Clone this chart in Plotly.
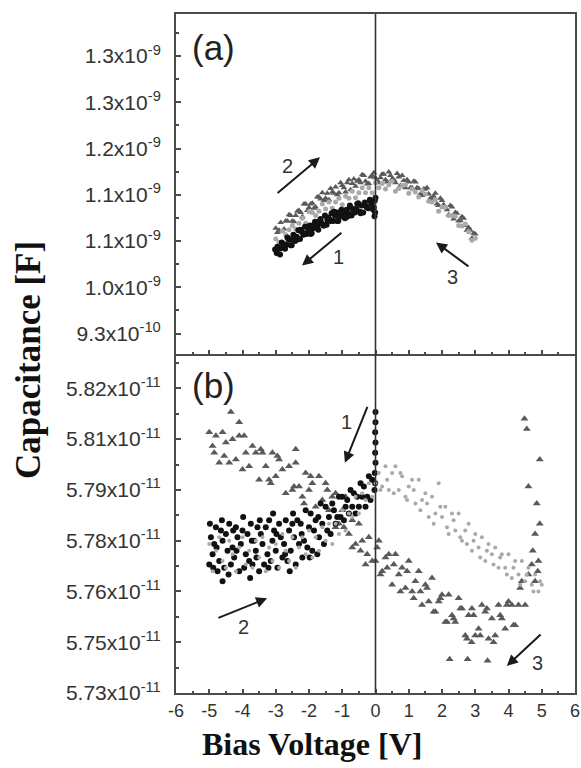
import plotly.graph_objects as go

# ---------------- Panel (a): capacitance in units of 1e-9 F ----------------
# series 1 (black circles, 0 V -> -3 V)
a1_x = [-0.02, -0.07, -0.12, -0.17, -0.22, -0.27, -0.32, -0.37, -0.42, -0.47, -0.52, -0.57, -0.62, -0.67,
        -0.72, -0.77, -0.82, -0.87, -0.92, -0.97, -1.02, -1.07, -1.12, -1.17, -1.22, -1.27, -1.32, -1.37,
        -1.42, -1.47, -1.52, -1.57, -1.62, -1.67, -1.72, -1.77, -1.82, -1.87, -1.92, -1.97, -2.02, -2.07,
        -2.12, -2.17, -2.22, -2.27, -2.32, -2.37, -2.42, -2.47, -2.52, -2.57, -2.62, -2.67, -2.72, -2.77,
        -2.82, -2.87, -2.92, -2.97, -3.02,
        -0.05, -0.15, -0.25, -0.35, -0.45, -0.55, -0.65, -0.75, -0.85, -0.95, -1.05, -1.15, -1.25, -1.35,
        -1.45, -1.55, -1.65, -1.75, -1.85, -1.95, -2.05, -2.15, -2.25, -2.35, -2.45, -2.55, -2.65, -2.75,
        -2.85, -2.95, -0.01, 0.0, -0.03]
a1_y = [1.117, 1.104, 1.113, 1.118, 1.106, 1.108, 1.114, 1.100, 1.110, 1.101, 1.113, 1.105, 1.100, 1.105,
        1.096, 1.110, 1.099, 1.104, 1.092, 1.099, 1.104, 1.094, 1.088, 1.100, 1.096, 1.088, 1.099, 1.090,
        1.093, 1.083, 1.096, 1.082, 1.085, 1.089, 1.076, 1.084, 1.087, 1.078, 1.071, 1.082, 1.077, 1.070,
        1.080, 1.069, 1.073, 1.063, 1.075, 1.066, 1.060, 1.069, 1.054, 1.062, 1.063, 1.055, 1.049, 1.056,
        1.058, 1.041, 1.049, 1.043, 1.048,
        1.107, 1.116, 1.108, 1.111, 1.099, 1.112, 1.102, 1.107, 1.094, 1.099, 1.101, 1.088, 1.101, 1.088,
        1.090, 1.082, 1.091, 1.081, 1.083, 1.070, 1.080, 1.071, 1.076, 1.062, 1.065, 1.054, 1.065, 1.051,
        1.050, 1.052, 1.100, 1.121, 1.095]

# series 2 (dark grey triangles, -3 V -> +3 V)
a2_x = [-3.0, -2.9, -2.8, -2.7, -2.6, -2.5, -2.4, -2.3, -2.2, -2.1, -2.0, -1.9, -1.8, -1.7, -1.6, -1.5,
        -1.4, -1.3, -1.2, -1.1, -1.0, -0.9, -0.8, -0.7, -0.6, -0.5, -0.4, -0.3, -0.2, -0.1, 0.0, 0.1, 0.2,
        0.3, 0.4, 0.5, 0.6, 0.7, 0.8, 0.9, 1.0, 1.1, 1.2, 1.3, 1.4, 1.5, 1.6, 1.7, 1.8, 1.9, 2.0, 2.1, 2.2,
        2.3, 2.4, 2.5, 2.6, 2.7, 2.8, 2.9, 3.0,
        -2.95, -2.85, -2.75, -2.65, -2.55, -2.45, -2.35, -2.25, -2.15, -2.05, -1.95, -1.85, -1.75, -1.65,
        -1.55, -1.45, -1.35, -1.25, -1.15, -1.05, -0.95, -0.85, -0.75, -0.65, -0.55, -0.45, -0.35, -0.25,
        -0.15, -0.05, 0.05, 0.15, 0.25, 0.35, 0.45, 0.55, 0.65, 0.75, 0.85, 0.95, 1.05, 1.15, 1.25, 1.35,
        1.45, 1.55, 1.65, 1.75, 1.85, 1.95, 2.05, 2.15, 2.25, 2.35, 2.45, 2.55, 2.65, 2.75, 2.85, 2.95]
a2_y = [1.078, 1.075, 1.074, 1.088, 1.097, 1.088, 1.096, 1.103, 1.094, 1.112, 1.107, 1.113, 1.108, 1.122,
        1.128, 1.120, 1.118, 1.129, 1.136, 1.128, 1.138, 1.129, 1.146, 1.141, 1.137, 1.146, 1.153, 1.144,
        1.141, 1.152, 1.149, 1.142, 1.154, 1.146, 1.157, 1.147, 1.142, 1.150, 1.152, 1.135, 1.143, 1.135,
        1.143, 1.134, 1.124, 1.133, 1.126, 1.119, 1.127, 1.110, 1.117, 1.107, 1.097, 1.108, 1.100, 1.088,
        1.094, 1.082, 1.079, 1.064, 1.070,
        1.072, 1.086, 1.077, 1.088, 1.096, 1.087, 1.102, 1.100, 1.112, 1.103, 1.112, 1.106, 1.122, 1.119,
        1.117, 1.127, 1.134, 1.127, 1.125, 1.142, 1.135, 1.142, 1.132, 1.147, 1.144, 1.142, 1.152, 1.140,
        1.150, 1.156, 1.145, 1.149, 1.154, 1.143, 1.152, 1.146, 1.155, 1.138, 1.145, 1.146, 1.135, 1.144,
        1.135, 1.126, 1.133, 1.135, 1.120, 1.123, 1.112, 1.120, 1.111, 1.104, 1.110, 1.091, 1.099, 1.089,
        1.092, 1.075, 1.075, 1.071]

# series 3 (light grey circles, +3 V -> -3 V)
a3_x = [3.0, 2.9, 2.8, 2.7, 2.6, 2.5, 2.4, 2.3, 2.2, 2.1, 2.0, 1.9, 1.8, 1.7, 1.6, 1.5, 1.4, 1.3, 1.2,
        1.1, 1.0, 0.9, 0.8, 0.7, 0.6, 0.5, 0.4, 0.3, 0.2, 0.1, 0.0, -0.1, -0.2, -0.3, -0.4, -0.5, -0.6,
        -0.7, -0.8, -0.9, -1.0, -1.1, -1.2, -1.3, -1.4, -1.5, -1.6, -1.7, -1.8, -1.9, -2.0, -2.1, -2.2,
        -2.3, -2.4, -2.5, -2.6, -2.7, -2.8, -2.9, -3.0]
a3_y = [1.064, 1.061, 1.073, 1.084, 1.081, 1.082, 1.095, 1.096, 1.096, 1.108, 1.108, 1.102, 1.118, 1.115,
        1.116, 1.126, 1.131, 1.122, 1.129, 1.133, 1.127, 1.139, 1.138, 1.134, 1.130, 1.144, 1.139, 1.133,
        1.141, 1.135, 1.142, 1.128, 1.135, 1.128, 1.135, 1.128, 1.121, 1.130, 1.120, 1.123, 1.111, 1.120,
        1.115, 1.106, 1.115, 1.105, 1.112, 1.102, 1.096, 1.100, 1.101, 1.085, 1.092, 1.085, 1.077, 1.082,
        1.076, 1.069, 1.074, 1.058, 1.063]

# ---------------- Panel (b): capacitance in units of 1e-11 F ----------------
# series 1 (black circles, 0 V -> -5 V)
b1_x = [0.0, 0.0, -0.01, 0.0, -0.01, 0.0, -0.02, -0.01, -0.03,
        -0.1, -0.15, -0.2, -0.25, -0.3, -0.35, -0.4, -0.45, -0.5, -0.55, -0.6, -0.65, -0.7, -0.75, -0.8,
        -0.85, -0.9, -0.95, -1.0, -1.05, -1.1, -1.15, -1.2, -1.25, -1.3, -1.35, -1.4, -1.45,
        -1.5, -1.55, -1.6, -1.65, -1.7, -1.75, -1.8, -1.85, -1.9, -1.95, -2.0, -2.05, -2.1, -2.15, -2.2,
        -2.25, -2.3, -2.35, -2.4, -2.45, -2.5, -2.55, -2.6, -2.65, -2.7, -2.75, -2.8, -2.85, -2.9, -2.95,
        -3.0, -3.05, -3.1, -3.15, -3.2, -3.25, -3.3, -3.35, -3.4, -3.45, -3.5, -3.55, -3.6, -3.65, -3.7,
        -3.75, -3.8, -3.85, -3.9, -3.95, -4.0, -4.05, -4.1, -4.15, -4.2, -4.25, -4.3, -4.35, -4.4, -4.45,
        -4.5, -4.55, -4.6, -4.65, -4.7, -4.75, -4.8, -4.85, -4.9, -4.95, -5.0,
        -4.98, -4.88, -4.62, -4.42, -4.18, -3.98, -3.72, -3.48, -3.22, -2.98, -2.72, -2.48, -2.22, -1.98,
        -1.72, -4.78, -4.28, -3.58, -3.08, -2.58, -4.6, -3.77]
b1_y = [5.813, 5.810, 5.807, 5.804, 5.801, 5.798, 5.795, 5.792, 5.790,
        5.793, 5.787, 5.794, 5.788, 5.785, 5.791, 5.788, 5.792, 5.785, 5.788, 5.783, 5.789, 5.785, 5.790,
        5.783, 5.787, 5.785, 5.781, 5.788, 5.782, 5.788, 5.782, 5.780, 5.784, 5.786, 5.777, 5.782, 5.778,
        5.785, 5.774, 5.780, 5.786, 5.776, 5.771, 5.781, 5.778, 5.772, 5.783, 5.779, 5.773, 5.784, 5.775,
        5.770, 5.780, 5.774, 5.781, 5.768, 5.776, 5.780, 5.772, 5.778, 5.769, 5.781, 5.774, 5.770, 5.776,
        5.780, 5.767, 5.772, 5.778, 5.775, 5.769, 5.781, 5.771, 5.779, 5.768, 5.774, 5.777, 5.766, 5.779,
        5.772, 5.775, 5.768, 5.780, 5.769, 5.777, 5.771, 5.767, 5.778, 5.774, 5.766, 5.776, 5.779, 5.770,
        5.773, 5.768, 5.780, 5.772, 5.777, 5.767, 5.775, 5.778, 5.769, 5.766, 5.779, 5.774, 5.771, 5.776,
        5.768,
        5.780, 5.767, 5.781, 5.765, 5.772, 5.782, 5.775, 5.781, 5.767, 5.777, 5.771, 5.783, 5.777, 5.770,
        5.782, 5.773, 5.778, 5.770, 5.783, 5.766, 5.763, 5.764]

# series 2 (light grey circles, -5 V -> +5 V)
b2_x = [-5.0, -4.9, -4.8, -4.7, -4.6, -4.5, -4.4, -4.3, -4.2, -4.1, -4.0, -3.9, -3.8, -3.7, -3.6, -3.5,
        -3.4, -3.3, -3.2, -3.1, -3.0, -2.9, -2.8, -2.7, -2.6, -2.5, -2.4, -2.3, -2.2, -2.1, -2.0, -1.9,
        -1.8, -1.7, -1.6, -1.5, -1.4, -1.3, -1.2, -1.1, -1.0, -0.9, -0.8, -0.7, -0.6, -0.5, -0.4, -0.3,
        -0.2, -0.1, 0.0, 0.1, 0.2, 0.3, 0.4, 0.5, 0.6, 0.7, 0.8, 0.9, 1.0, 1.1, 1.2, 1.3, 1.4, 1.5, 1.6,
        1.7, 1.8, 1.9, 2.0, 2.1, 2.2, 2.3, 2.4, 2.5, 2.6, 2.7, 2.8, 2.9, 3.0, 3.1, 3.2, 3.3, 3.4, 3.5,
        3.6, 3.7, 3.8, 3.9, 4.0, 4.1, 4.2, 4.3, 4.4, 4.5, 4.6, 4.7, 4.8, 4.9, 5.0,
        0.15, 0.35, 0.55, 0.75, 0.95, 1.15, 1.35, 1.55, 1.75, 1.95, 2.15, 2.35, 2.55, 2.75, 2.95, 3.15,
        3.35, 3.55, 3.75, 3.95, 4.15, 4.35, 4.55, 4.75, 4.95]
b2_y = [5.774, 5.766, 5.772, 5.776, 5.769, 5.767, 5.775, 5.771, 5.766, 5.773, 5.776, 5.768, 5.772, 5.767,
        5.775, 5.770, 5.776, 5.766, 5.773, 5.769, 5.774, 5.767, 5.777, 5.772, 5.769, 5.776, 5.767, 5.773,
        5.776, 5.771, 5.778, 5.770, 5.776, 5.772, 5.779, 5.775, 5.780, 5.774, 5.780, 5.777, 5.784, 5.778,
        5.783, 5.782, 5.788, 5.783, 5.789, 5.787, 5.792, 5.788, 5.792, 5.795, 5.791, 5.797, 5.790, 5.795,
        5.797, 5.790, 5.794, 5.788, 5.791, 5.793, 5.786, 5.793, 5.787, 5.789, 5.782, 5.788, 5.783, 5.792,
        5.782, 5.785, 5.777, 5.783, 5.778, 5.783, 5.775, 5.778, 5.780, 5.772, 5.777, 5.773, 5.776, 5.769,
        5.774, 5.771, 5.773, 5.767, 5.771, 5.767, 5.771, 5.764, 5.769, 5.765, 5.769, 5.763, 5.767, 5.762,
        5.765, 5.760, 5.762,
        5.790, 5.793, 5.789, 5.795, 5.787, 5.790, 5.784, 5.786, 5.780, 5.785, 5.779, 5.781, 5.776, 5.774,
        5.775, 5.770, 5.772, 5.768, 5.770, 5.765, 5.767, 5.762, 5.765, 5.760, 5.763]

# series 3 (dark grey triangles, +5 V -> -5 V)
b3_x = [4.48, 4.55, 4.94, 4.6, 4.85, 4.94, 4.8, 4.73, 4.9, 4.88, 4.8, 4.7,
        4.6, 4.5, 4.4, 4.3, 4.2, 4.1, 4.0, 3.9, 3.8, 3.7, 3.6, 3.5, 3.4, 3.3, 3.2, 3.1, 3.0, 2.9, 2.8,
        2.7, 2.6, 2.5, 2.4, 2.3, 2.2, 2.1, 2.0, 1.9, 1.8, 1.7, 1.6, 1.5, 1.4, 1.3, 1.2, 1.1, 1.0, 0.9,
        0.8, 0.7, 0.6, 0.5, 0.4, 0.3, 0.2, 0.1, 0.0,
        4.35, 4.15, 3.95, 3.75, 3.55, 3.35, 3.15, 2.95, 2.75, 2.55, 2.35, 2.15, 1.95, 1.75, 1.55, 1.35,
        1.15, 0.95, 0.75, 0.55, 0.35, 0.15, 0.05,
        2.23, 2.77, 3.37, 2.89,
        -0.1, -0.2, -0.3, -0.4, -0.5, -0.6, -0.7, -0.8, -0.9, -1.0, -1.1, -1.2, -1.3, -1.4, -1.5, -1.6,
        -1.7, -1.8, -1.9, -2.0, -2.1, -2.2, -2.3, -2.4, -2.5, -2.6, -2.7, -2.8, -2.9, -3.0, -3.1, -3.2,
        -3.3, -3.4, -3.5, -3.6, -3.7, -3.8, -3.9, -4.0, -4.1, -4.2, -4.3, -4.4, -4.5, -4.6, -4.7, -4.8,
        -4.9, -5.0,
        -4.35, -4.1, -4.85, -4.55, -3.95, -3.45, -2.95, -2.45, -1.95, -1.45, -0.95, -0.45, -0.25,
        -2.15, -3.15, -1.2, -0.7, -2.4]
b3_y = [5.811, 5.808, 5.799, 5.791, 5.786, 5.780, 5.777, 5.772, 5.769, 5.766, 5.763, 5.768,
        5.765, 5.756, 5.763, 5.756, 5.750, 5.756, 5.757, 5.749, 5.752, 5.756, 5.747, 5.752, 5.746, 5.754,
        5.756, 5.749, 5.747, 5.755, 5.753, 5.747, 5.755, 5.758, 5.751, 5.753, 5.759, 5.751, 5.759, 5.757,
        5.754, 5.764, 5.757, 5.762, 5.756, 5.766, 5.763, 5.760, 5.769, 5.761, 5.767, 5.765, 5.771, 5.762,
        5.771, 5.770, 5.766, 5.775, 5.769,
        5.761, 5.750, 5.756, 5.753, 5.745, 5.755, 5.747, 5.753, 5.746, 5.755, 5.752, 5.751, 5.758, 5.754,
        5.761, 5.760, 5.758, 5.766, 5.760, 5.768, 5.767, 5.765, 5.773,
        5.740, 5.740, 5.7395, 5.745,
        5.769, 5.776, 5.768, 5.775, 5.780, 5.774, 5.781, 5.777, 5.788, 5.784, 5.780, 5.789, 5.788, 5.784,
        5.792, 5.787, 5.794, 5.785, 5.792, 5.790, 5.795, 5.788, 5.791, 5.798, 5.790, 5.797, 5.789, 5.796,
        5.799, 5.794, 5.801, 5.793, 5.797, 5.801, 5.793, 5.801, 5.803, 5.797, 5.801, 5.796, 5.806, 5.799,
        5.805, 5.798, 5.804, 5.807, 5.798, 5.806, 5.803, 5.807,
        5.813, 5.810, 5.801, 5.800, 5.806, 5.802, 5.800, 5.791, 5.794, 5.790, 5.779, 5.772, 5.771,
        5.786, 5.792, 5.779, 5.773, 5.802]

# ---------------- Axis ticks ----------------
x_ticks = [-6, -5, -4, -3, -2, -1, 0, 1, 2, 3, 4, 5, 6]
a_tickvals = [0.93, 0.995, 1.06, 1.125, 1.19, 1.255, 1.32]
a_ticktext = ["9.3x10<sup>-10</sup>", "1.0x10<sup>-9</sup>", "1.1x10<sup>-9</sup>", "1.1x10<sup>-9</sup>",
              "1.2x10<sup>-9</sup>", "1.3x10<sup>-9</sup>", "1.3x10<sup>-9</sup>"]
b_tickvals = [5.73, 5.745, 5.76, 5.775, 5.79, 5.805, 5.82]
b_ticktext = ["5.73x10<sup>-11</sup>", "5.75x10<sup>-11</sup>", "5.76x10<sup>-11</sup>", "5.78x10<sup>-11</sup>",
              "5.79x10<sup>-11</sup>", "5.81x10<sup>-11</sup>", "5.82x10<sup>-11</sup>"]

BLACK = "#111111"
DARK = "#5a5a5a"
LIGHT = "#a9a9a9"
AX = "#4a4a4a"

fig = go.Figure()

# panel (a)
fig.add_trace(go.Scatter(x=a2_x, y=a2_y, mode="markers", xaxis="x2", yaxis="y2",
                         marker=dict(symbol="triangle-up", size=6, color=DARK)))
fig.add_trace(go.Scatter(x=a3_x, y=a3_y, mode="markers", xaxis="x2", yaxis="y2",
                         marker=dict(symbol="circle", size=5, color=LIGHT)))
fig.add_trace(go.Scatter(x=a1_x, y=a1_y, mode="markers", xaxis="x2", yaxis="y2",
                         marker=dict(symbol="circle", size=6, color=BLACK)))
# panel (b)
fig.add_trace(go.Scatter(x=b3_x, y=b3_y, mode="markers", xaxis="x", yaxis="y",
                         marker=dict(symbol="triangle-up", size=7, color=DARK)))
fig.add_trace(go.Scatter(x=b1_x, y=b1_y, mode="markers", xaxis="x", yaxis="y",
                         marker=dict(symbol="circle", size=6, color=BLACK)))
fig.add_trace(go.Scatter(x=b2_x, y=b2_y, mode="markers", xaxis="x", yaxis="y",
                         marker=dict(symbol="circle", size=4, color=LIGHT)))

ytickfont = dict(family="Liberation Sans, Arial", size=21, color="#333333")
common_x = dict(range=[-6, 6], showline=True, linecolor=AX, linewidth=2,
                ticks="inside", ticklen=4, tickwidth=1.5, tickcolor=AX,
                tickmode="array", tickvals=x_ticks, showgrid=False, zeroline=False,
                minor=dict(ticks="inside", ticklen=2, tickwidth=1.5, tickcolor=AX, tick0=-6, dtick=0.5))
common_y = dict(showline=True, linecolor=AX, linewidth=2, mirror=True,
                ticks="inside", ticklen=5, tickwidth=1.5, tickcolor=AX, showgrid=False, zeroline=False,
                tickfont=ytickfont, ticklabelstandoff=9)

fig.update_layout(
    width=581, height=768,
    margin=dict(l=176, r=6, t=14, b=75, autoexpand=False),
    paper_bgcolor="white", plot_bgcolor="white",
    showlegend=False,
    xaxis=dict(common_x, anchor="y", domain=[0, 1], mirror=False, ticktext=[str(v) for v in x_ticks],
               tickfont=dict(family="Liberation Sans, Arial", size=18, color="#333333")),
    xaxis2=dict(common_x, anchor="y2", domain=[0, 1], mirror=True, matches="x", showticklabels=False),
    yaxis=dict(common_y, anchor="x", domain=[0, 0.5], range=[5.73, 5.8303],
               tickmode="array", tickvals=b_tickvals, ticktext=b_ticktext,
               minor=dict(ticks="inside", ticklen=3, tickwidth=1.5, tickcolor=AX, tick0=5.73, dtick=0.0075)),
    yaxis2=dict(common_y, anchor="x2", domain=[0.5, 1], range=[0.902, 1.379],
                tickmode="array", tickvals=a_tickvals, ticktext=a_ticktext,
                minor=dict(ticks="inside", ticklen=3, tickwidth=1.5, tickcolor=AX, tick0=0.93, dtick=0.0325)),
)

# vertical line at zero bias through both panels
fig.add_shape(type="line", xref="x", yref="paper", x0=0, x1=0, y0=0, y1=1,
              line=dict(color="#333333", width=1.6))

ann_font = dict(family="Liberation Sans, Arial", size=20, color="#333333")
arrows = [
    # (x_head, y_head, x_tail, y_tail, xref, yref)
    (-1.67, 1.1776, -2.99, 1.1256, "x2", "y2"),
    (-2.21, 1.0257, -0.98, 1.0735, "x2", "y2"),
    (1.82, 1.058, 2.84, 1.0229, "x2", "y2"),
    (-0.92, 5.798, -0.226, 5.815, "x", "y"),
    (-3.26, 5.758, -4.77, 5.752, "x", "y"),
    (3.95, 5.738, 5.01, 5.7477, "x", "y"),
]
for xh, yh, xt, yt, xr, yr in arrows:
    fig.add_annotation(x=xh, y=yh, ax=xt, ay=yt, xref=xr, yref=yr, axref=xr, ayref=yr,
                       text="", showarrow=True, arrowhead=2, arrowsize=1.1, arrowwidth=2,
                       arrowcolor="#1a1a1a")
labels = [
    ("2", -2.66, 1.166, "x2", "y2"),
    ("1", -1.10, 1.037, "x2", "y2"),
    ("3", 2.33, 1.009, "x2", "y2"),
    ("1", -0.86, 5.810, "x", "y"),
    ("2", -3.98, 5.7495, "x", "y"),
    ("3", 4.86, 5.739, "x", "y"),
]
for t, xx, yy, xr, yr in labels:
    fig.add_annotation(x=xx, y=yy, xref=xr, yref=yr, text=t, showarrow=False, font=ann_font,
                       xanchor="center", yanchor="middle")

# panel letters
fig.add_annotation(x=0.095, y=0.951, xref="paper", yref="paper", text="(a)", showarrow=False,
                   xanchor="center", yanchor="middle",
                   font=dict(family="Liberation Sans, Arial", size=35, color="#222222"))
fig.add_annotation(x=0.095, y=0.4536, xref="paper", yref="paper", text="(b)", showarrow=False,
                   xanchor="center", yanchor="middle",
                   font=dict(family="Liberation Sans, Arial", size=35, color="#222222"))

# axis titles
fig.add_annotation(x=-0.371, y=0.4904, xref="paper", yref="paper", text="<b>Capacitance [F]</b>",
                   textangle=-90, showarrow=False, xanchor="center", yanchor="middle",
                   font=dict(family="Liberation Serif, Times New Roman", size=35, color="#111111"))
fig.add_annotation(x=0.341, y=-0.0751, xref="paper", yref="paper", text="<b>Bias Voltage [V]</b>",
                   showarrow=False, xanchor="center", yanchor="middle",
                   font=dict(family="Liberation Serif, Times New Roman", size=32, color="#111111"))

fig.write_html("out.html", config={"displayModeBar": False},
               post_script="document.body.style.margin='0px';")
